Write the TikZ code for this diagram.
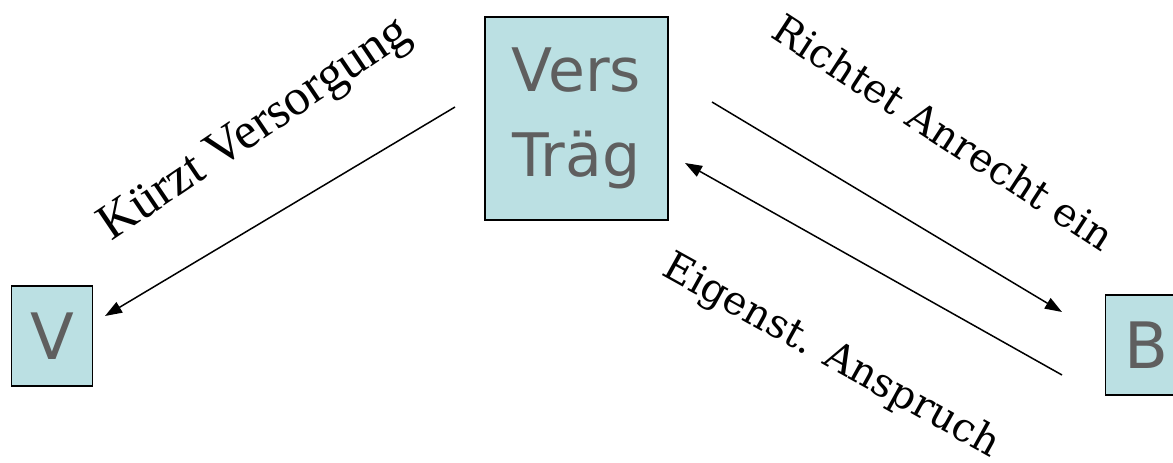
\documentclass[tikz,border=0pt]{standalone}
\usepackage{fontspec}
\setmainfont{Liberation Serif}
\newfontfamily\boxfont{DejaVu Sans}
\newfontfamily\labfont{DejaVu Serif}
\usetikzlibrary{arrows.meta}
\definecolor{boxfill}{HTML}{BBE0E3}
\definecolor{boxtext}{HTML}{5F5F5F}
\tikzset{
  party/.style={draw=black, line width=1.8pt, fill=boxfill, text=boxtext, inner sep=0pt, align=center},
  flow/.style={line width=1.5pt, -{Triangle[length=17pt,width=12pt]}},
  lab/.style={inner sep=0pt, text=black}
}
\begin{document}
\begin{tikzpicture}[x=1pt,y=-1pt]
\useasboundingbox (0,0) rectangle (1173,463);
\node[party, minimum width=183pt, minimum height=203pt, font=\boxfont\fontsize{60}{85}\selectfont] (vt) at (576.5,118.5) {Vers\\Träg};
\node[party, minimum width=81pt, minimum height=100pt, font=\boxfont\fontsize{64}{70}\selectfont] (v) at (52,336) {V};
\node[party, minimum width=81pt, minimum height=100pt, font=\boxfont\fontsize{64}{70}\selectfont] (b) at (1146,345) {B};
\coordinate (a1s) at (455,107);
\coordinate (a1e) at (105,316);
\coordinate (a2s) at (712,102);
\coordinate (a2e) at (1062,312);
\coordinate (a3s) at (1062,375);
\coordinate (a3e) at (685,163);
\draw[flow] (a1s) -- (a1e);
\draw[flow] (a2s) -- (a2e);
\draw[flow] (a3s) -- (a3e);
\node[lab, rotate=34, font=\fontsize{51}{58}\selectfont] (l1) at (256,131) {Kürzt Versorgung};
\node[lab, rotate=-33, font=\labfont\fontsize{40}{48}\selectfont] (l2) at (944,132) {Richtet Anrecht ein};
\node[lab, rotate=-29, font=\labfont\fontsize{40}{48}\selectfont] (l3) at (831,357) {Eigenst. Anspruch};
\end{tikzpicture}
\end{document}
